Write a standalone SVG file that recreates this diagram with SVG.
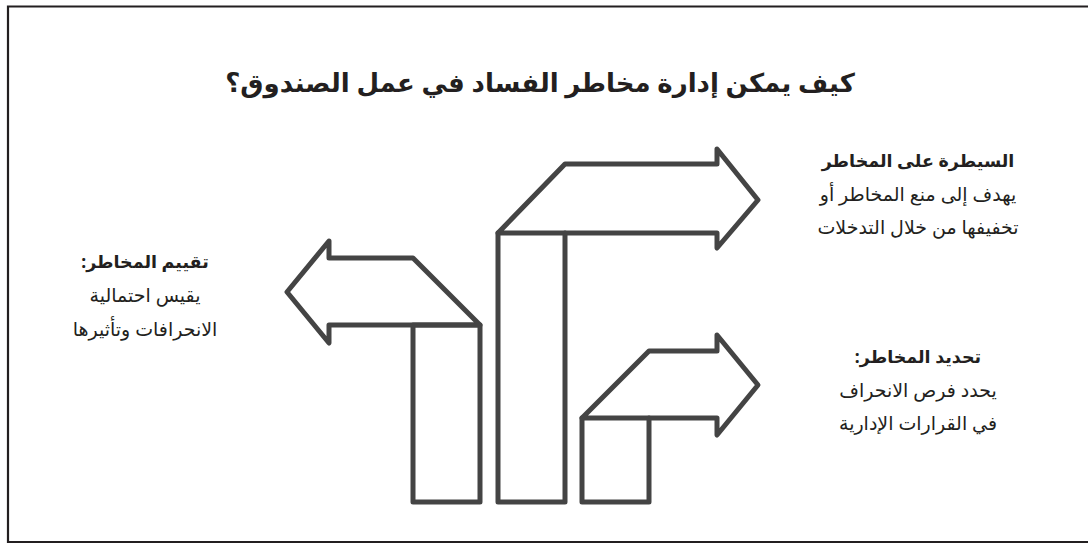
<svg xmlns="http://www.w3.org/2000/svg" width="1088" height="545" viewBox="0 0 1088 545">
<style>
.frame{fill:none;stroke:#231f20;stroke-width:2.2}
.arr{fill:none;stroke:#444;stroke-width:5;stroke-linejoin:round;stroke-linecap:round}
text{font-family:"Noto Sans","DejaVu Sans",sans-serif;fill:#231f20;text-anchor:middle;direction:rtl}
.title{font-size:26px;font-weight:bold}
.h{font-size:17.5px;font-weight:bold}
.b{font-size:19px}
</style>
<rect width="1088" height="545" fill="#fff"/>
<path class="frame" d="M1090 6.5 H8 V542 H1090"/>
<g id="title"><text class="title" x="540" y="92">كيف يمكن إدارة مخاطر الفساد في عمل الصندوق؟</text></g>
<g id="arrow-left">
<path class="arr" d="M413 325 V502 H480 V325 Z"/>
<path class="arr" d="M480 325 L413 258 H329 V241 L287 292 L329 343 V325 Z"/>
</g>
<g id="arrow-middle">
<path class="arr" d="M498 233 V502 H565 V233"/>
<path class="arr" d="M498 233 L565 164 H717 V149 L758 200 L717 248 V233 Z"/>
</g>
<g id="arrow-right">
<path class="arr" d="M582 418 V502 H649 V418"/>
<path class="arr" d="M582 418 L649 351 H717 V335 L758 385 L717 435 V418 Z"/>
</g>
<g id="control">
<text class="h" x="918" y="167">السيطرة على المخاطر</text>
<text class="b" x="918" y="201">يهدف إلى منع المخاطر أو</text>
<text class="b" x="918" y="234">تخفيفها من خلال التدخلات</text>
</g>
<g id="assess">
<text class="h" x="145" y="268">تقييم المخاطر:</text>
<text class="b" x="145" y="302">يقيس احتمالية</text>
<text class="b" x="145" y="336">الانحرافات وتأثيرها</text>
</g>
<g id="identify">
<text class="h" x="918" y="363">تحديد المخاطر:</text>
<text class="b" x="918" y="397">يحدد فرص الانحراف</text>
<text class="b" x="918" y="430">في القرارات الإدارية</text>
</g>
</svg>
